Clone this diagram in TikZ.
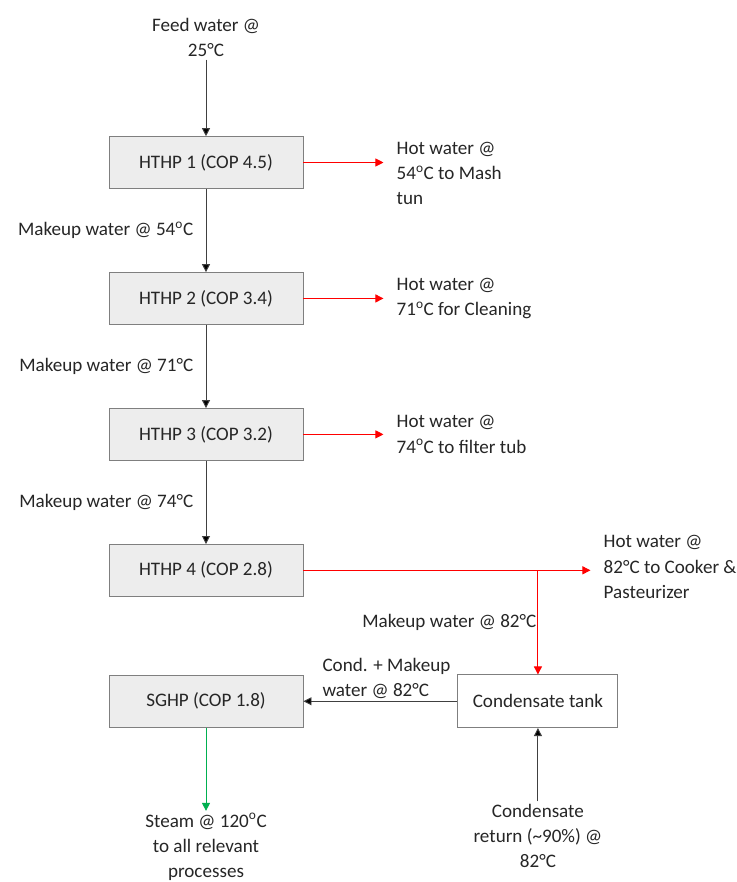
\documentclass[tikz,border=0pt]{standalone}
\usepackage{fontspec}
\setmainfont{Carlito}
\usepackage{tikz}
\usetikzlibrary{arrows.meta,positioning,calc}
\usepackage{xcolor}
\definecolor{boxgray}{HTML}{EDEDED}
\definecolor{edgegray}{HTML}{7F7F7F}
\definecolor{hotred}{HTML}{FF0000}
\definecolor{steamgreen}{HTML}{00B050}
\newcommand{\supo}{\textsuperscript{o}}

\begin{document}
\begin{tikzpicture}[
  font=\fontsize{16.3}{21.5}\selectfont,
  hp/.style={draw=edgegray, fill=boxgray, minimum width=5.82cm, minimum height=1.55cm,
    align=center, text=black!85, line width=0.8pt},
  tankbox/.style={draw=edgegray, fill=white, minimum width=4.8cm, minimum height=1.58cm,
    align=center, text=black!85, line width=0.8pt},
  lbl/.style={align=center, inner sep=2pt, text=black!85},
  outlbl/.style={align=left, inner xsep=0.39cm, text=black!85},
  arr/.style={-{Triangle[length=2.4mm, width=2.4mm, fill=black]}, line width=0.8pt, draw=black!75},
  hot/.style={-{Triangle[length=2.4mm, width=2.4mm]}, line width=0.8pt, draw=hotred},
  steamarr/.style={-{Triangle[length=2.4mm, width=2.4mm]}, line width=0.8pt, draw=steamgreen}
]
  \useasboundingbox (0,0) rectangle (22.11,-26.46);

  \node[hp] (h1) at (6.18,-4.875) {HTHP 1 (COP 4.5)};
  \node[hp, below=2.5cm of h1] (h2) {HTHP 2 (COP 3.4)};
  \node[hp, below=2.5cm of h2] (h3) {HTHP 3 (COP 3.2)};
  \node[hp, below=2.5cm of h3] (h4) {HTHP 4 (COP 2.8)};
  \node[hp, below=2.35cm of h4] (sghp) {SGHP (COP 1.8)};
  \node[tankbox, right=4.62cm of sghp] (tank) {Condensate tank};

  \node[lbl, above=2.3cm of h1] (feed) {Feed water @\\25°C};
  \node[outlbl, right=2.4cm of h1, yshift=-0.33cm] (hot1) {Hot water @\\54\supo C to Mash\\tun};
  \node[outlbl, right=2.4cm of h2] (hot2) {Hot water @\\71\supo C for Cleaning};
  \node[outlbl, right=2.4cm of h3] (hot3) {Hot water @\\74\supo C to filter tub};
  \node[outlbl, right=8.61cm of h4, yshift=0.1cm] (hot4) {Hot water @\\82°C to Cooker \&\\Pasteurizer};
  \node[lbl, below=2.5cm of sghp] (steam) {Steam @ 120\supo C\\to all relevant\\processes};
  \node[lbl, below=2.2cm of tank] (ret) {Condensate\\return (\textasciitilde 90\%) @\\82°C};

  \draw[arr] (feed) -- (h1);
  \draw[arr] (h1) -- node[lbl, left, xshift=-0.3cm] {Makeup water @ 54\supo C} (h2);
  \draw[arr] (h2) -- node[lbl, left, xshift=-0.3cm] {Makeup water @ 71°C} (h3);
  \draw[arr] (h3) -- node[lbl, left, xshift=-0.3cm] {Makeup water @ 74°C} (h4);

  \draw[hot] (h1.east) -- (h1.east -| hot1.west);
  \draw[hot] (h2.east) -- (hot2.west);
  \draw[hot] (h3.east) -- (hot3.west);
  \draw[hot] (h4.east) -- (h4.east -| hot4.west);
  \draw[hot] (h4.east -| tank.north) -- node[lbl, left, inner sep=1pt] {Makeup water @ 82°C} (tank.north);

  \draw[arr] (tank) -- node[lbl, above, align=left, xshift=0.18cm] {Cond. + Makeup\\water @ 82°C} (sghp);
  \draw[steamarr] (sghp) -- (steam);
  \draw[arr] (ret) -- (tank);
\end{tikzpicture}
\end{document}
